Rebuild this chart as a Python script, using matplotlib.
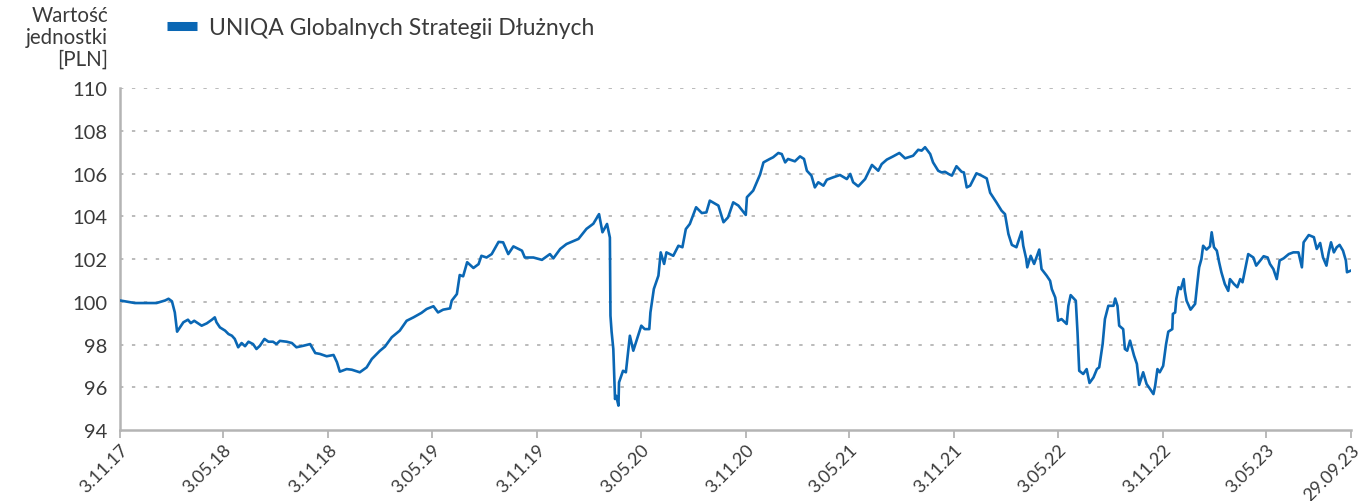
import numpy as np
import matplotlib
matplotlib.use("Agg")
import matplotlib.pyplot as plt
from matplotlib.lines import Line2D

plt.rcParams['font.family'] = ['Lato', 'DejaVu Sans']

# ---- data ----
start_date = np.datetime64('2017-11-03')
day_offsets = [0, 26, 64, 79, 85, 91, 96, 100, 105, 111, 119, 124, 130, 143, 152, 161, 166, 169, 175, 184,
               190, 196, 201, 207, 213, 219, 225, 233, 239, 245, 253, 260, 268, 274, 280, 292, 301, 309, 321, 333,
               342, 350, 362, 374, 380, 385, 397, 406, 420, 432, 441, 455, 464, 476, 490, 502, 514, 528, 537, 549,
               557, 566, 578, 581, 590, 595, 601, 608, 619, 628, 633, 642, 651, 663, 671, 680, 689, 704, 709, 724,
               739, 753, 759, 771, 782, 803, 817, 829, 839, 845, 853, 858, 859, 861, 864, 867, 869, 873, 874, 881,
               886, 893, 899, 913, 919, 927, 929, 935, 943, 947, 953, 957, 969, 978, 985, 991, 998, 1009, 1019, 1027,
               1033, 1048, 1057, 1065, 1074, 1083, 1096, 1098, 1109, 1121, 1127, 1138, 1144, 1153, 1159, 1165, 1170, 1182, 1191, 1198,
               1203, 1211, 1217, 1223, 1232, 1238, 1249, 1261, 1273, 1279, 1284, 1293, 1305, 1317, 1328, 1334, 1343, 1354, 1365, 1375,
               1389, 1398, 1404, 1410, 1419, 1424, 1433, 1439, 1445, 1451, 1457, 1465, 1474, 1478, 1483, 1489, 1500, 1509, 1518, 1524,
               1535, 1544, 1550, 1556, 1562, 1570, 1579, 1582, 1587, 1589, 1595, 1601, 1610, 1614, 1623, 1629, 1632, 1638, 1640, 1643,
               1649, 1658, 1661, 1665, 1674, 1677, 1680, 1687, 1693, 1698, 1705, 1711, 1715, 1718, 1721, 1725, 1731, 1740, 1743, 1747,
               1750, 1757, 1760, 1764, 1769, 1776, 1781, 1785, 1792, 1798, 1804, 1810, 1813, 1817, 1821, 1827, 1832, 1836, 1843, 1844,
               1848, 1850, 1854, 1858, 1863, 1865, 1868, 1875, 1883, 1887, 1890, 1894, 1897, 1903, 1909, 1912, 1916, 1921, 1925, 1929,
               1935, 1941, 1944, 1951, 1957, 1962, 1966, 1972, 1976, 1985, 1990, 1997, 2003, 2010, 2014, 2020, 2026, 2031, 2038, 2047,
               2055, 2064, 2070, 2073, 2082, 2091, 2096, 2102, 2107, 2113, 2117, 2121, 2126, 2131, 2136, 2142, 2147, 2149, 2156]
unit_values = [100.06, 99.94, 99.94, 100.06, 100.14, 100.02, 99.5, 98.6, 98.8, 99.04, 99.16, 99.0, 99.11, 98.88, 98.99, 99.16, 99.27, 99.04, 98.8, 98.65,
               98.49, 98.41, 98.26, 97.87, 98.07, 97.92, 98.13, 98.02, 97.79, 97.94, 98.26, 98.13, 98.13, 98.02, 98.17, 98.13, 98.07, 97.87, 97.94, 98.02,
               97.6, 97.56, 97.45, 97.51, 97.17, 96.73, 96.85, 96.82, 96.7, 96.93, 97.32, 97.7, 97.9, 98.34, 98.65, 99.11, 99.27, 99.48, 99.66, 99.79,
               99.5, 99.63, 99.69, 100.05, 100.36, 101.25, 101.19, 101.85, 101.58, 101.76, 102.15, 102.07, 102.23, 102.8, 102.78, 102.23, 102.59, 102.39, 102.07, 102.07,
               101.96, 102.23, 102.03, 102.47, 102.7, 102.94, 103.41, 103.65, 104.1, 103.25, 103.64, 103.0, 99.35, 98.6, 97.79, 95.45, 95.6, 95.14, 96.23, 96.77,
               96.7, 98.41, 97.71, 98.88, 98.72, 98.72, 99.5, 100.6, 101.22, 102.31, 101.77, 102.31, 102.15, 102.62, 102.55, 103.4, 103.64, 104.42, 104.15, 104.18,
               104.73, 104.5, 103.72, 103.95, 104.65, 104.5, 104.06, 104.89, 105.2, 105.95, 106.52, 106.68, 106.76, 106.96, 106.91, 106.52, 106.68, 106.57, 106.8, 106.68,
               106.13, 105.9, 105.35, 105.59, 105.43, 105.71, 105.82, 105.93, 105.74, 105.98, 105.59, 105.4, 105.74, 106.4, 106.13, 106.44, 106.65, 106.8, 106.96, 106.71,
               106.83, 107.11, 107.07, 107.23, 106.91, 106.52, 106.13, 106.05, 106.08, 105.98, 105.9, 106.34, 106.08, 106.05, 105.35, 105.43, 106.01, 105.9, 105.77, 105.1,
               104.65, 104.26, 104.1, 103.17, 102.66, 102.55, 103.28, 102.62, 102.03, 101.61, 102.15, 101.77, 102.44, 101.53, 101.22, 100.98, 100.59, 100.2, 99.81, 99.11,
               99.19, 98.96, 99.81, 100.31, 100.05, 98.57, 96.77, 96.62, 96.85, 96.2, 96.46, 96.85, 96.93, 97.48, 98.02, 99.19, 99.81, 99.81, 100.15, 99.81,
               98.88, 98.72, 97.79, 97.71, 98.18, 97.48, 97.09, 96.11, 96.7, 96.15, 95.92, 95.68, 96.07, 96.85, 96.7, 97.0, 98.0, 98.6, 98.72, 99.43,
               99.5, 100.13, 100.68, 100.59, 101.06, 100.51, 100.05, 99.63, 99.9, 100.91, 101.61, 102.0, 102.62, 102.44, 102.59, 103.25, 102.55, 102.39, 101.85, 101.38,
               100.83, 100.51, 101.06, 100.83, 100.68, 101.06, 100.91, 101.69, 102.23, 102.07, 101.69, 101.93, 102.13, 102.07, 101.77, 101.53, 101.06, 101.93, 102.03, 102.23,
               102.31, 102.31, 101.61, 102.78, 103.12, 103.02, 102.47, 102.75, 102.07, 101.69, 102.31, 102.78, 102.31, 102.55, 102.66, 102.39, 101.93, 101.38, 101.46]
tick_dates = ['2017-11-03', '2018-05-03', '2018-11-03', '2019-05-03', '2019-11-03', '2020-05-03',
              '2020-11-03', '2021-05-03', '2021-11-03', '2022-05-03', '2022-11-03', '2023-05-03', '2023-09-29']
tick_labels = ['3.11.17', '3.05.18', '3.11.18', '3.05.19', '3.11.19', '3.05.20',
               '3.11.20', '3.05.21', '3.11.21', '3.05.22', '3.11.22', '3.05.23', '29.09.23']
y_ticks = [94, 96, 98, 100, 102, 104, 106, 108, 110]
series_name = 'UNIQA Globalnych Strategii Dłużnych'
y_title = 'Wartość\njednostki\n[PLN]'

# ---- figure ----
W, H = 1367, 502
fig = plt.figure(figsize=(W / 100, H / 100), dpi=100)
ax = fig.add_axes([120 / W, 1 - 431 / H, (1351 - 120) / W, (431 - 89) / H])

line_color = '#0a67b4'
text_color = '#3a3a3a'
axis_color = '#b4b4b4'

dates = (start_date + np.array(day_offsets).astype('timedelta64[D]')).astype(object)
ax.plot(dates, unit_values, color=line_color, lw=1.9, solid_joinstyle='round', zorder=3)

ax.set_ylim(94, 110)
ax.set_yticks(y_ticks)
ax.set_xlim(np.datetime64(tick_dates[0]).astype(object), np.datetime64(tick_dates[-1]).astype(object))
ax.set_xticks([np.datetime64(d).astype(object) for d in tick_dates])
ax.set_xticklabels(tick_labels, rotation=45, ha='right', va='top', rotation_mode='anchor')

for y in y_ticks[1:]:
    ax.axhline(y, color='#a8a8a8', lw=1.1, ls=(0, (2.2, 5.6)), zorder=1)

for s in ['top', 'right']:
    ax.spines[s].set_visible(False)
ax.spines['left'].set_color(axis_color)
ax.spines['left'].set_linewidth(1.8)
ax.spines['bottom'].set_color(axis_color)
ax.spines['bottom'].set_linewidth(1.8)

ax.tick_params(axis='y', length=0, pad=9, labelsize=14.5, labelcolor=text_color)
ax.tick_params(axis='x', length=6, width=1.3, color=axis_color, pad=2, labelsize=13, labelcolor=text_color)

fig.text(108 / W, 1 - 6 / H, y_title, ha='right', va='top', fontsize=14.8, color=text_color,
         linespacing=1.12)

handle = Line2D([0], [0], color=line_color, lw=6.5, solid_capstyle='butt')
fig.legend([handle], [series_name], loc='upper left', bbox_to_anchor=(160 / W, 1 - 11 / H),
           frameon=False, fontsize=16.5, handlelength=1.3, handletextpad=0.55, labelcolor=text_color,
           borderaxespad=0, borderpad=0.3)

fig.savefig('out.png', dpi=100)
